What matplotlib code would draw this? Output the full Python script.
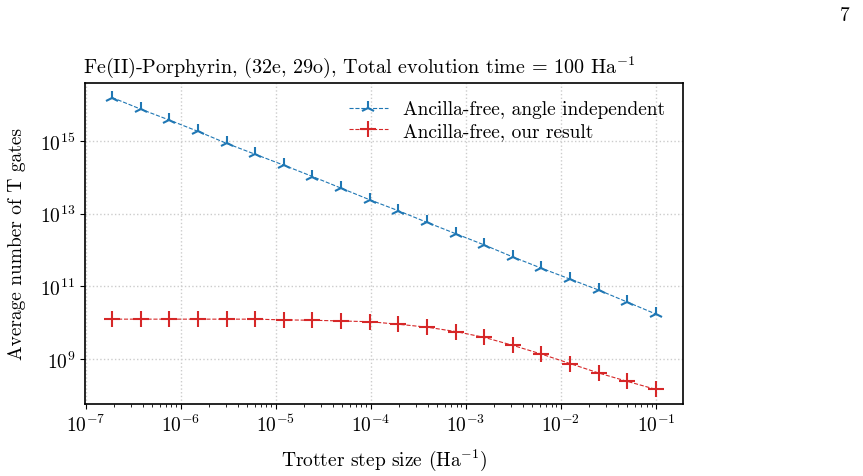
import numpy as np
import matplotlib
matplotlib.use("Agg")
import matplotlib.pyplot as plt
from matplotlib.ticker import NullLocator, NullFormatter

plt.rcParams['font.family'] = 'serif'
plt.rcParams['font.serif'] = ['cmr10']
plt.rcParams['mathtext.fontset'] = 'cm'
plt.rcParams['axes.formatter.use_mathtext'] = True
plt.rcParams['font.size'] = 14

# Trotter step sizes (Ha^-1), 0.1 halved 19 times
step_size = [1.907e-7, 3.815e-7, 7.629e-7, 1.526e-6, 3.052e-6, 6.104e-6,
             1.221e-5, 2.441e-5, 4.883e-5, 9.766e-5, 1.953e-4, 3.906e-4,
             7.813e-4, 1.563e-3, 3.125e-3, 6.25e-3, 1.25e-2, 2.5e-2, 5e-2, 1e-1]

# log10 of average T gate counts
log_angle_indep = [16.19, 15.87, 15.57, 15.26, 14.93, 14.63, 14.33, 14.02, 13.70, 13.38,
                   13.08, 12.76, 12.45, 12.14, 11.81, 11.50, 11.20, 10.90, 10.57, 10.24]
log_our_result = [10.10, 10.10, 10.10, 10.10, 10.10, 10.10, 10.08, 10.07, 10.05, 10.03,
                  9.96, 9.88, 9.76, 9.60, 9.38, 9.14, 8.88, 8.62, 8.39, 8.17]

x_ticks = [1e-7, 1e-6, 1e-5, 1e-4, 1e-3, 1e-2, 1e-1]
y_ticks = [1e9, 1e11, 1e13, 1e15]

angle_indep = 10 ** np.array(log_angle_indep)
our_result = 10 ** np.array(log_our_result)

fig = plt.figure(figsize=(8.63, 4.77), dpi=100)
ax = fig.add_axes([0.0985, 0.151, 0.693, 0.673])

ax.plot(step_size, angle_indep, linestyle='--', linewidth=0.8, color='#1f77b4',
        marker='2', markersize=10, markeredgewidth=1.5,
        label='Ancilla-free, angle independent')
ax.plot(step_size, our_result, linestyle='--', linewidth=0.8, color='#d62728',
        marker='+', markersize=11, markeredgewidth=1.5,
        label='Ancilla-free, our result')

ax.set_xscale('log')
ax.set_yscale('log')
xlim = ax.get_xlim()
ax.set_xticks(x_ticks)
ax.set_xlim(xlim)
ax.set_yticks(y_ticks)
ax.yaxis.set_minor_locator(NullLocator())
ax.xaxis.set_minor_formatter(NullFormatter())
ax.tick_params(labelsize=14)

ax.grid(True, which='major', linestyle=':', color='#cccccc', linewidth=1)
for s in ax.spines.values():
    s.set_linewidth(1.2)

ax.set_xlabel(r'Trotter step size (Ha$^{-1}$)', labelpad=8)
ax.set_ylabel('Average number of T gates', labelpad=10)
ax.set_title(r'Fe(II)-Porphyrin, (32e, 29o), Total evolution time = 100 Ha$^{-1}$',
             loc='left', fontsize=14.5, x=-0.003, pad=8)
ax.legend(loc='upper right', frameon=False, fontsize=14, borderaxespad=0.5,
          handlelength=2.0, labelspacing=0.2)

fig.text(0.985, 0.985, '7', ha='right', va='top', fontsize=14)

fig.savefig('out.png', dpi=100)
